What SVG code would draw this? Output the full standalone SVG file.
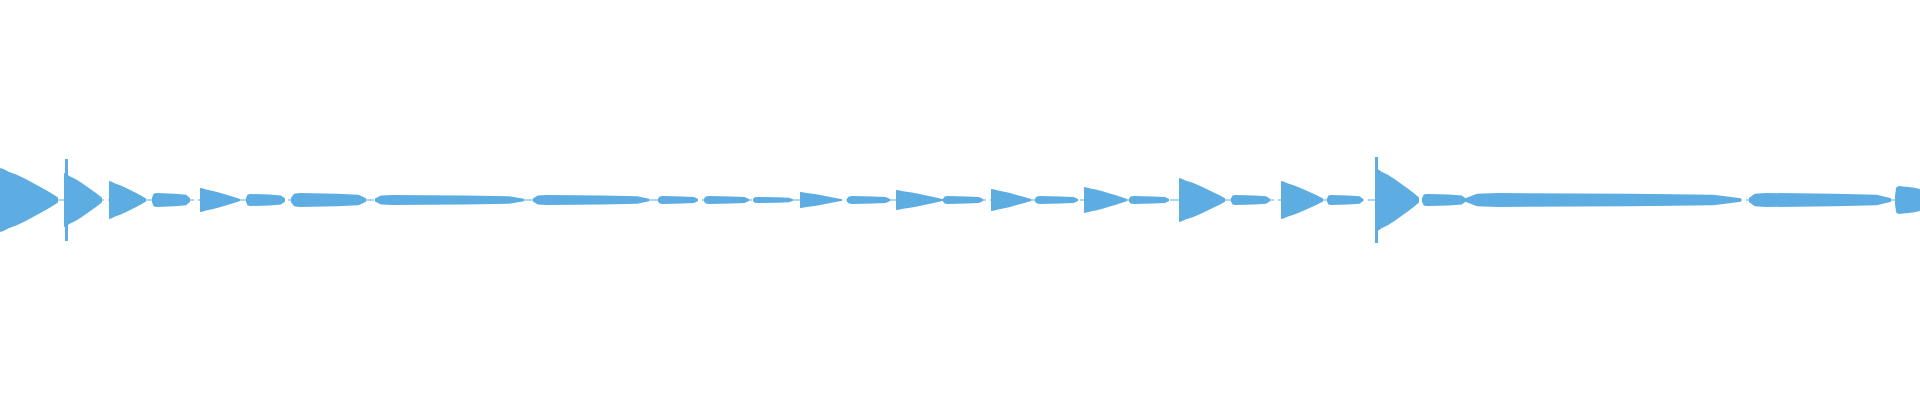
<svg xmlns="http://www.w3.org/2000/svg" width="1920" height="400" viewBox="0 0 1920 400">
<style>.w{fill:#5dade2}</style>
<defs>
<path id="d" d="M0,-1 L0.06,-0.97 L0.15,-0.88 L0.3,-0.78 L0.45,-0.65 L0.6,-0.5 L0.72,-0.38 L0.85,-0.25 L1,-0.08 L1,0.08 L0.85,0.25 L0.72,0.38 L0.6,0.5 L0.45,0.65 L0.3,0.78 L0.15,0.88 L0.06,0.97 L0,1 Z"/>
<path id="s" d="M0,-0.3 L0.04,-0.9 L0.12,-1 L0.6,-0.9 L0.9,-0.75 L1,-0.25 L1,0.25 L0.9,0.75 L0.6,0.9 L0.12,1 L0.04,0.9 L0,0.3 Z"/>
</defs>
<rect width="1920" height="400" fill="#fff"/>
<g class="w">
<line x1="0" y1="200" x2="1895" y2="200" stroke="#5dade2" stroke-width="1.2" stroke-dasharray="14 4"/>
<use href="#d" transform="translate(0,200) scale(58,32)"/>
<rect x="65" y="159" width="3" height="82"/>
<use href="#d" transform="translate(64,200) scale(38,27)"/>
<use href="#d" transform="translate(109,200) scale(37,19)"/>
<use href="#s" transform="translate(152,200) scale(38,7)"/>
<use href="#d" transform="translate(200,200) scale(40,12)"/>
<use href="#s" transform="translate(246,200) scale(39,6)"/>
<use href="#s" transform="translate(291,200) scale(75,7)"/>
<use href="#s" transform="translate(375,200) scale(149,5)"/>
<use href="#s" transform="translate(533,200) scale(116,5)"/>
<use href="#s" transform="translate(658,200) scale(40,4)"/>
<use href="#s" transform="translate(704,200) scale(45,4)"/>
<use href="#s" transform="translate(753,200) scale(40,3)"/>
<use href="#d" transform="translate(800,200) scale(42,8)"/>
<use href="#s" transform="translate(847,200) scale(43,4)"/>
<use href="#d" transform="translate(896,200) scale(47,10)"/>
<use href="#s" transform="translate(943,200) scale(40,4)"/>
<use href="#d" transform="translate(991,200) scale(40,11)"/>
<use href="#s" transform="translate(1035,200) scale(43,4)"/>
<use href="#d" transform="translate(1084,200) scale(43,13)"/>
<use href="#s" transform="translate(1129,200) scale(40,4)"/>
<use href="#d" transform="translate(1179,200) scale(46,22)"/>
<use href="#s" transform="translate(1231,200) scale(39,5)"/>
<use href="#d" transform="translate(1281,200) scale(42,19)"/>
<use href="#s" transform="translate(1327,200) scale(36,5)"/>
<rect x="1375" y="157" width="3" height="86"/>
<use href="#d" transform="translate(1375,200) scale(44,32)"/>
<use href="#s" transform="translate(1422,200) scale(44,6)"/>
<use href="#s" transform="translate(1466,200) scale(275,7)"/>
<use href="#s" transform="translate(1749,200) scale(142,7)"/>
<use href="#s" transform="translate(1895,200) scale(30,14)"/>
</g>
</svg>
